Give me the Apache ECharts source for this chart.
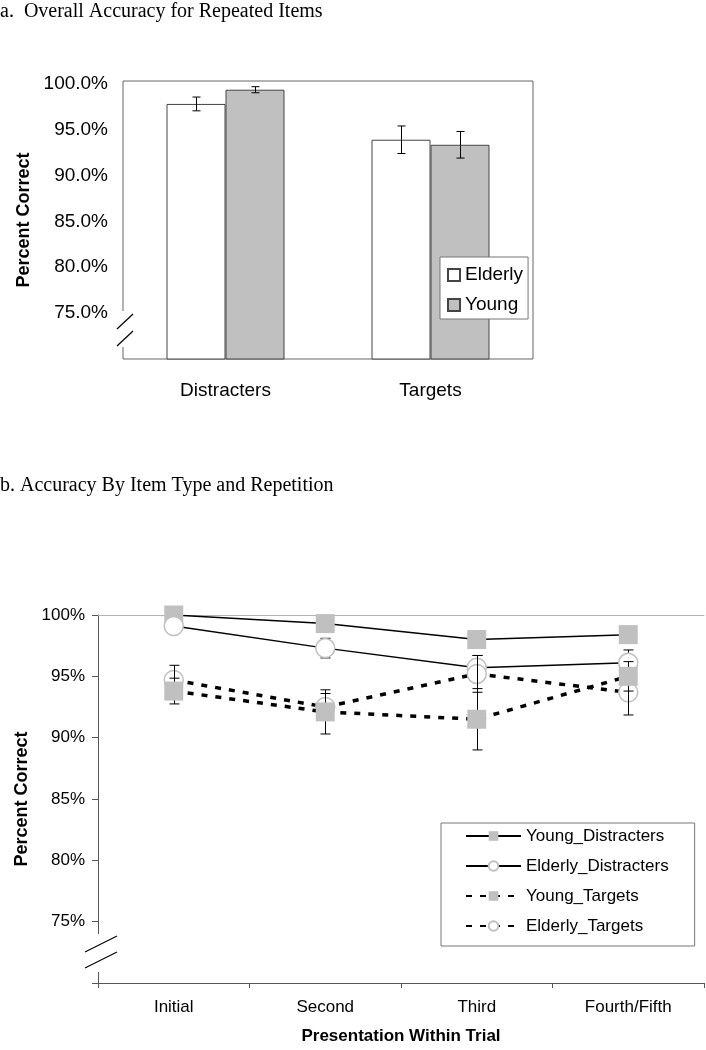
<!DOCTYPE html>
<html><head><meta charset="utf-8">
<script src="https://cdn.jsdelivr.net/npm/echarts@6/dist/echarts.min.js"></script>
<style>html,body{margin:0;padding:0;background:#fff}#c{width:706px;height:1050px}</style>
</head><body><div id="c"></div>
<script>
const titleA = 'a.  Overall Accuracy for Repeated Items';
const titleB = 'b. Accuracy By Item Type and Repetition';
const barCategories = ['Distracters', 'Targets'];
const elderlyBar = [97.8, 93.9];
const elderlyBarErr = [0.75, 1.5];
const youngBar = [99.35, 93.35];
const youngBarErr = [0.33, 1.45];

const lineCategories = ['Initial', 'Second', 'Third', 'Fourth/Fifth'];
const youngDistracters = [100.0, 99.3, 98.0, 98.4];
const youngDistractersErr = [0.2, 0.4, 0.5, 0.4];
const elderlyDistracters = [99.1, 97.3, 95.7, 96.1];
const elderlyDistractersErr = [0.5, 0.8, 1.0, 1.05];
const youngTargets = [93.8, 92.1, 91.5, 95.0];
const youngTargetsErr = [1.05, 1.8, 2.5, 1.2];
const elderlyTargets = [94.7, 92.5, 95.2, 93.7];
const elderlyTargetsErr = [1.2, 1.1, 1.5, 1.85];

const SANS = 'Liberation Sans';
const SERIF = 'Liberation Serif';
const BAR_W = 59;

function errData(vals, errs, side) {
  return vals.map((v, i) => [i, v - errs[i], v + errs[i], side || 0]);
}
function errRender(capHalf, offsetW) {
  return function (params, api) {
    const x = api.value(0), lo = api.value(1), hi = api.value(2), side = api.value(3);
    const off = side * offsetW;
    const p1 = api.coord([x, hi]), p2 = api.coord([x, lo]);
    const cx = Math.round(p1[0] + off) + 0.5;
    const st = { stroke: '#000', lineWidth: 1, fill: null };
    return { type: 'group', children: [
      { type: 'line', shape: { x1: cx, y1: p1[1], x2: cx, y2: p2[1] }, style: st },
      { type: 'line', shape: { x1: cx - capHalf, y1: p1[1], x2: cx + capHalf, y2: p1[1] }, style: st },
      { type: 'line', shape: { x1: cx - capHalf, y1: p2[1], x2: cx + capHalf, y2: p2[1] }, style: st }
    ]};
  };
}

const chart = echarts.init(document.getElementById('c'), null, { renderer: 'canvas' });
const solid = { color: '#000', width: 1.5, type: 'solid' };
const dashed = { color: '#000', width: 3.5, type: [6, 8] };
const sqStyle = { color: '#c0c0c0', borderWidth: 0 };
const ciStyle = { color: '#fff', borderColor: '#c0c0c0', borderWidth: 1.5 };

const option = {
  animation: false,
  backgroundColor: '#fff',
  title: [
    { text: titleA, left: 0, top: 2, padding: 0, textStyle: { fontFamily: SERIF, fontSize: 20, fontWeight: 'normal', color: '#000' } },
    { text: titleB, left: 0, top: 476, padding: 0, textStyle: { fontFamily: SERIF, fontSize: 20, fontWeight: 'normal', color: '#000' } }
  ],
  legend: [
    { data: ['Elderly', 'Young'], orient: 'vertical', left: 440, top: 257, icon: 'rect',
      itemWidth: 12, itemHeight: 12, itemGap: 10, padding: [8, 5, 4, 7],
      borderColor: '#777', borderWidth: 1, backgroundColor: '#fff',
      textStyle: { fontFamily: SANS, fontSize: 19, color: '#000', lineHeight: 20 } },
    { data: ['Young_Distracters', 'Elderly_Distracters', 'Young_Targets', 'Elderly_Targets'],
      orient: 'vertical', left: 441, top: 823, itemWidth: 55, itemHeight: 12, itemGap: 10,
      padding: [3, 26, 10, 24], borderColor: '#777', borderWidth: 1, backgroundColor: '#fff',
      textStyle: { fontFamily: SANS, fontSize: 17, color: '#000', lineHeight: 20 } }
  ],
  grid: [
    { left: 123, top: 81, width: 410, height: 278, show: true, borderColor: '#666', borderWidth: 1, backgroundColor: 'transparent' },
    { left: 98, top: 615, right: 2, height: 368 }
  ],
  xAxis: [
    { type: 'category', gridIndex: 0, data: barCategories,
      axisLine: { show: false }, axisTick: { show: false },
      axisLabel: { fontFamily: SANS, fontSize: 19, color: '#000', margin: 22 } },
    { type: 'category', gridIndex: 1, data: lineCategories, boundaryGap: true,
      axisLine: { show: true, lineStyle: { color: '#555', width: 1 } },
      axisTick: { show: true, length: 5, lineStyle: { color: '#555' } },
      axisLabel: { fontFamily: SANS, fontSize: 17, color: '#000', margin: 16 },
      name: 'Presentation Within Trial', nameLocation: 'middle', nameGap: 45,
      nameTextStyle: { fontFamily: SANS, fontSize: 17, fontWeight: 'bold', color: '#000' } },
    { type: 'category', gridIndex: 1, data: lineCategories, position: 'top',
      axisLine: { show: true, lineStyle: { color: '#b4b4b4', width: 1 } },
      axisTick: { show: false }, axisLabel: { show: false } }
  ],
  yAxis: [
    { type: 'value', gridIndex: 0, min: 70, max: 100.3, interval: 5,
      axisLine: { show: false }, axisTick: { show: false }, splitLine: { show: false },
      axisLabel: { fontFamily: SANS, fontSize: 19, color: '#000', margin: 15, showMaxLabel: false,
        formatter: v => (v >= 75 && v <= 100 && v % 5 === 0) ? v.toFixed(1) + '%' : '' },
      name: 'Percent Correct', nameLocation: 'middle', nameGap: 88,
      nameTextStyle: { fontFamily: SANS, fontSize: 18, fontWeight: 'bold', color: '#000' } },
    { type: 'value', gridIndex: 1, min: 70, max: 100, interval: 5,
      axisLine: { show: true, lineStyle: { color: '#555', width: 1 } },
      axisTick: { show: true, length: 6, lineStyle: { color: '#555' } },
      splitLine: { show: false },
      axisLabel: { fontFamily: SANS, fontSize: 17, color: '#000', margin: 13,
        formatter: v => v === 70 ? '' : v + '%' },
      name: 'Percent Correct', nameLocation: 'middle', nameGap: 64,
      nameTextStyle: { fontFamily: SANS, fontSize: 18, fontWeight: 'bold', color: '#000' } }
  ],
  series: [
    { name: 'Elderly', type: 'bar', xAxisIndex: 0, yAxisIndex: 0, data: elderlyBar, barWidth: BAR_W, barGap: '0%',
      itemStyle: { color: '#fff', borderColor: '#444', borderWidth: 1 } },
    { name: 'Young', type: 'bar', xAxisIndex: 0, yAxisIndex: 0, data: youngBar, barWidth: BAR_W, barGap: '0%',
      itemStyle: { color: '#c0c0c0', borderColor: '#444', borderWidth: 1 } },
    { type: 'custom', xAxisIndex: 0, yAxisIndex: 0, z: 5, renderItem: errRender(4, BAR_W / 2),
      data: errData(elderlyBar, elderlyBarErr, -1).concat(errData(youngBar, youngBarErr, 1)) },

    { type: 'custom', xAxisIndex: 1, yAxisIndex: 1, z: 1, renderItem: errRender(5, 0),
      data: errData(youngDistracters, youngDistractersErr, 0) },
    { name: 'Young_Distracters', type: 'line', xAxisIndex: 1, yAxisIndex: 1, data: youngDistracters, z: 2,
      symbol: 'rect', symbolSize: 19, lineStyle: solid, itemStyle: sqStyle },
    { type: 'custom', xAxisIndex: 1, yAxisIndex: 1, z: 3, renderItem: errRender(5, 0),
      data: errData(elderlyDistracters, elderlyDistractersErr, 0) },
    { name: 'Elderly_Distracters', type: 'line', xAxisIndex: 1, yAxisIndex: 1, data: elderlyDistracters, z: 4,
      symbol: 'circle', symbolSize: 19, lineStyle: solid, itemStyle: ciStyle },
    { name: 'Elderly_Targets', type: 'line', xAxisIndex: 1, yAxisIndex: 1, data: elderlyTargets, z: 5,
      symbol: 'circle', symbolSize: 19, lineStyle: dashed, itemStyle: ciStyle },
    { type: 'custom', xAxisIndex: 1, yAxisIndex: 1, z: 6, renderItem: errRender(5, 0),
      data: errData(elderlyTargets, elderlyTargetsErr, 0) },
    { type: 'custom', xAxisIndex: 1, yAxisIndex: 1, z: 7, renderItem: errRender(5, 0),
      data: errData(youngTargets, youngTargetsErr, 0) },
    { name: 'Young_Targets', type: 'line', xAxisIndex: 1, yAxisIndex: 1, data: youngTargets, z: 8,
      symbol: 'rect', symbolSize: 19, lineStyle: dashed, itemStyle: sqStyle }
  ],
  graphic: [
    { type: 'rect', z: 100, shape: { x: 119, y: 311, width: 8, height: 36 }, style: { fill: '#fff' } },
    { type: 'line', z: 101, shape: { x1: 117, y1: 329, x2: 133, y2: 314 }, style: { stroke: '#000', lineWidth: 1.2 } },
    { type: 'line', z: 101, shape: { x1: 117, y1: 346, x2: 133, y2: 331 }, style: { stroke: '#000', lineWidth: 1.2 } },
    { type: 'rect', z: 100, shape: { x: 94, y: 934, width: 8, height: 38 }, style: { fill: '#fff' } },
    { type: 'line', z: 101, shape: { x1: 85, y1: 952, x2: 117, y2: 936 }, style: { stroke: '#000', lineWidth: 1.2 } },
    { type: 'line', z: 101, shape: { x1: 85, y1: 968, x2: 117, y2: 952 }, style: { stroke: '#000', lineWidth: 1.2 } }
  ]
};
chart.setOption(option);
</script></body></html>
